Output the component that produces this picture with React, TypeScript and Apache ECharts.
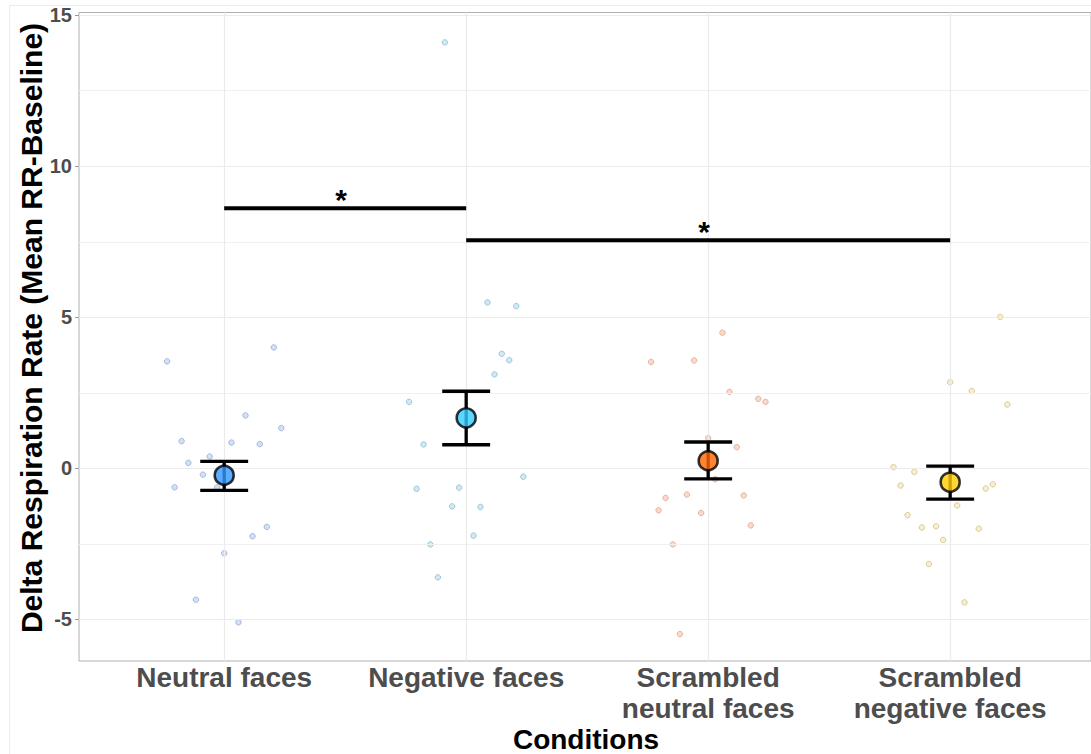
import React, { useEffect, useRef } from "react";
import * as echarts from "echarts";

const categories = ["Neutral faces", "Negative faces", "Scrambled\nneutral faces", "Scrambled\nnegative faces"];
const meanColors = ["#3399FF", "#33CCFF", "#FF6600", "#FFCC00"];
const pointFill = ["rgba(51,120,220,0.28)", "rgba(40,160,210,0.28)", "rgba(230,100,40,0.3)", "rgba(225,190,40,0.3)"];
const pointStroke = ["rgba(100,130,185,0.6)", "rgba(90,150,185,0.6)", "rgba(200,125,95,0.6)", "rgba(185,165,95,0.65)"];

const yTicks = [-5, 0, 5, 10, 15];
const yMinorGrid = [-2.5, 2.5, 7.5, 12.5];
const xTicks = [1, 2, 3, 4];

// jitter offsets (relative to category position) and values
const neutralOffsets = [-0.236, 0.205, 0.088, 0.236, -0.176, 0.03, 0.147, -0.06, -0.148, -0.088, -0.205, -0.029, 0.176, 0.117, 0.0, -0.117, 0.059];
const neutralValues = [3.54, 4.0, 1.75, 1.33, 0.9, 0.85, 0.8, 0.39, 0.18, -0.21, -0.63, -0.63, -1.94, -2.25, -2.81, -4.35, -5.1];
const negativeOffsets = [-0.088, 0.088, 0.207, 0.147, 0.178, 0.117, -0.236, -0.176, 0.236, -0.205, -0.029, -0.058, 0.059, 0.03, -0.148, -0.117];
const negativeValues = [14.1, 5.49, 5.37, 3.79, 3.58, 3.11, 2.2, 0.79, -0.28, -0.68, -0.64, -1.26, -1.28, -2.23, -2.52, -3.61];
const scrNeutralOffsets = [0.059, -0.236, -0.058, 0.088, 0.207, 0.237, 0.0, 0.118, 0.029, -0.088, -0.176, 0.147, -0.205, -0.029, 0.176, -0.146, -0.117];
const scrNeutralValues = [4.49, 3.52, 3.57, 2.53, 2.3, 2.2, 1.0, 0.7, -0.36, -0.87, -0.98, -0.9, -1.39, -1.48, -1.89, -2.52, -5.49];
const scrNegativeOffsets = [0.207, 0.0, 0.089, 0.236, -0.234, -0.148, -0.205, 0.176, 0.147, 0.029, -0.176, -0.117, -0.058, 0.118, -0.029, -0.088, 0.059];
const scrNegativeValues = [5.01, 2.85, 2.56, 2.11, 0.04, -0.12, -0.57, -0.53, -0.67, -1.23, -1.55, -1.96, -1.92, -2.0, -2.37, -3.17, -4.44];

const means = [-0.23, 1.67, 0.25, -0.46];
const lowers = [-0.73, 0.78, -0.35, -1.02];
const uppers = [0.23, 2.55, 0.87, 0.07];

// significance brackets: [from category, to category, height]
const sigFrom = [1, 2];
const sigTo = [2, 4];
const sigY = [8.61, 7.55];
const sigLabels = ["*", "*"];

const yTitle = "Delta Respiration Rate (Mean RR-Baseline)";
const xTitle = "Conditions";

const FONT = "'Liberation Sans', Arial, Helvetica, sans-serif";

export default function App() {
  const ref = useRef<HTMLDivElement>(null);
  useEffect(() => {
    if (!ref.current) return;
    const chart = echarts.init(ref.current, undefined, { renderer: "svg" });
    const jitterOffsets = [neutralOffsets, negativeOffsets, scrNeutralOffsets, scrNegativeOffsets];
    const jitterValues = [neutralValues, negativeValues, scrNeutralValues, scrNegativeValues];

    const jitterSeries = jitterOffsets.map((offs, c) => ({
      type: "scatter",
      z: 2,
      symbol: "circle",
      symbolSize: 5.5,
      silent: true,
      itemStyle: { color: pointFill[c], borderColor: pointStroke[c], borderWidth: 1 },
      data: offs.map((o, i) => [xTicks[c] + o, jitterValues[c][i]]),
    }));

    const capHalf = 0.099;

    const option: any = {
      animation: false,
      backgroundColor: "#ffffff",
      textStyle: { fontFamily: FONT },
      grid: {
        left: 79,
        right: 0,
        top: 12.5,
        bottom: 93,
        outerBoundsMode: "none",
        containLabel: false,
        show: true,
        borderColor: "#b0b0b0",
        borderWidth: 1,
        backgroundColor: "transparent",
      },
      graphic: [
        {
          type: "rect",
          shape: { x: 9.5, y: 5.5, width: 1200, height: 800 },
          style: { fill: "none", stroke: "#ececec", lineWidth: 1 },
          silent: true,
          z: -10,
        },
        {
          type: "text",
          x: 31,
          y: 328,
          rotation: Math.PI / 2,
          silent: true,
          style: {
            text: yTitle,
            fontSize: 30,
            fontWeight: "bold",
            fill: "#000",
            align: "center",
            verticalAlign: "middle",
            fontFamily: FONT,
          },
        },
        {
          type: "text",
          x: 586,
          y: 739,
          silent: true,
          style: {
            text: xTitle,
            fontSize: 28,
            fontWeight: "bold",
            fill: "#000",
            align: "center",
            verticalAlign: "middle",
            fontFamily: FONT,
          },
        },
      ],
      xAxis: {
        type: "value",
        min: 0.4,
        max: 4.582,
        axisLine: { show: false },
        splitLine: { show: false },
        axisTick: { show: true, customValues: xTicks, length: 4, lineStyle: { color: "#9a9a9a", width: 1 } },
        axisLabel: {
          customValues: xTicks,
          formatter: (v: number) => categories[Math.round(v) - 1] ?? "",
          fontSize: 28,
          fontWeight: "bold",
          color: "#4d4d4d",
          lineHeight: 31,
          margin: 1,
          fontFamily: FONT,
        },
      },
      yAxis: {
        type: "value",
        min: -6.38,
        max: 15.09,
        axisLine: { show: false },
        splitLine: { show: false },
        axisTick: { show: true, customValues: yTicks, length: 4, lineStyle: { color: "#9a9a9a", width: 1 } },
        axisLabel: {
          customValues: yTicks,
          fontSize: 20,
          fontWeight: "bold",
          color: "#4d4d4d",
          margin: 7,
          fontFamily: FONT,
        },
      },
      series: [
        {
          type: "line",
          data: [],
          z: 0,
          silent: true,
          markLine: {
            silent: true,
            symbol: "none",
            label: { show: false },
            animation: false,
            lineStyle: { color: "#ebebeb", width: 1.2, type: "solid" },
            data: [
              ...yTicks.map((v) => ({ yAxis: v })),
              ...yMinorGrid.map((v) => ({ yAxis: v, lineStyle: { color: "#f0f0f0", width: 1 } })),
              ...xTicks.map((v) => ({ xAxis: v })),
            ],
          },
        },
        ...jitterSeries,
        {
          type: "custom",
          z: 5,
          silent: true,
          encode: { x: 0, y: [1, 2] },
          data: xTicks.map((x, i) => [x, lowers[i], uppers[i]]),
          renderItem: (_params: any, api: any) => {
            const x = api.value(0);
            const lo = api.value(1);
            const hi = api.value(2);
            const top = api.coord([x, hi]);
            const bot = api.coord([x, lo]);
            const tl = api.coord([x - capHalf, hi]);
            const tr = api.coord([x + capHalf, hi]);
            const bl = api.coord([x - capHalf, lo]);
            const br = api.coord([x + capHalf, lo]);
            const style = { stroke: "#000", lineWidth: 3.3 };
            return {
              type: "group",
              children: [
                { type: "line", shape: { x1: top[0], y1: top[1], x2: bot[0], y2: bot[1] }, style },
                { type: "line", shape: { x1: tl[0], y1: tl[1], x2: tr[0], y2: tr[1] }, style },
                { type: "line", shape: { x1: bl[0], y1: bl[1], x2: br[0], y2: br[1] }, style },
              ],
            };
          },
        },
        {
          type: "scatter",
          z: 6,
          silent: true,
          symbol: "circle",
          symbolSize: 19,
          data: xTicks.map((x, i) => ({
            value: [x, means[i]],
            itemStyle: { color: meanColors[i], borderColor: "#000", borderWidth: 2.6 },
          })),
        },
        {
          type: "custom",
          z: 7,
          silent: true,
          encode: { x: [0, 1], y: 2 },
          data: sigFrom.map((f, i) => [f, sigTo[i], sigY[i]]),
          renderItem: (params: any, api: any) => {
            const a = api.coord([api.value(0), api.value(2)]);
            const b = api.coord([api.value(1), api.value(2)]);
            return {
              type: "group",
              children: [
                {
                  type: "line",
                  shape: { x1: a[0], y1: a[1], x2: b[0], y2: b[1] },
                  style: { stroke: "#000", lineWidth: 4 },
                },
                {
                  type: "text",
                  x: (a[0] + b[0]) / 2 - 4,
                  y: a[1] - 9,
                  style: {
                    text: sigLabels[params.dataIndex],
                    fontSize: 30,
                    fontWeight: "bold",
                    fill: "#000",
                    align: "center",
                    verticalAlign: "middle",
                    fontFamily: FONT,
                  },
                },
              ],
            };
          },
        },
      ],
    };
    chart.setOption(option);
    return () => chart.dispose();
  }, []);
  return (
    <div
      ref={ref}
      style={{ position: "absolute", left: 0, top: 0, width: 1091, height: 754, background: "#fff" }}
    />
  );
}
